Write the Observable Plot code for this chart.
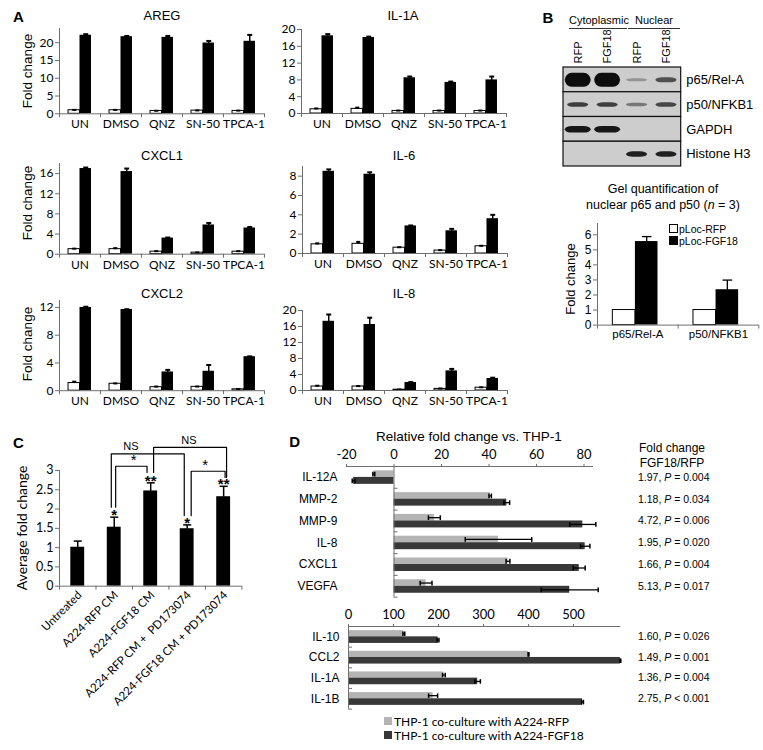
<!DOCTYPE html>
<html><head><meta charset="utf-8">
<script src="https://cdn.jsdelivr.net/npm/d3@7"></script>
<script src="https://cdn.jsdelivr.net/npm/@observablehq/plot@0.6"></script>
<style>
body{margin:0;background:#fff;}
#fig{position:relative;width:763px;height:750px;overflow:hidden;background:#fff;font-family:"Liberation Sans",Arial,sans-serif;color:#000;}
#fig svg{position:absolute;}
</style></head>
<body><div id="fig"></div>
<script>
// ---------- DATA ----------
// Panel A
const categoriesA = ["UN", "DMSO", "QNZ", "SN-50", "TPCA-1"];
const aregRFP = [1.0, 1.0, 0.8, 0.9, 0.8];
const aregRFPErr = [0.1, 0.1, 0.05, 0.05, 0.1];
const aregFGF18 = [22.1, 21.7, 21.5, 19.9, 20.4];
const aregFGF18Err = [0.3, 0.2, 0.4, 0.6, 1.8];
const il1aRFP = [1.0, 1.1, 0.6, 0.6, 0.6];
const il1aRFPErr = [0.2, 0.3, 0.1, 0.1, 0.1];
const il1aFGF18 = [18.5, 18.1, 8.5, 7.4, 8.0];
const il1aFGF18Err = [0.4, 0.2, 0.3, 0.2, 0.8];
const cxcl1RFP = [1.0, 1.0, 0.5, 0.3, 0.5];
const cxcl1RFPErr = [0.1, 0.2, 0.1, 0.05, 0.1];
const cxcl1FGF18 = [17.0, 16.4, 3.2, 5.8, 5.2];
const cxcl1FGF18Err = [0.2, 0.6, 0.1, 0.4, 0.2];
const il6RFP = [0.95, 1.0, 0.6, 0.3, 0.75];
const il6RFPErr = [0.1, 0.2, 0.05, 0.05, 0.05];
const il6FGF18 = [8.5, 8.2, 2.85, 2.35, 3.6];
const il6FGF18Err = [0.2, 0.2, 0.05, 0.2, 0.4];
const cxcl2RFP = [1.1, 1.0, 0.5, 0.55, 0.2];
const cxcl2RFPErr = [0.2, 0.05, 0.1, 0.05, 0.05];
const cxcl2FGF18 = [12.0, 11.7, 2.7, 2.8, 4.9];
const cxcl2FGF18Err = [0.1, 0.05, 0.3, 0.9, 0.05];
const il8RFP = [1.0, 1.0, 0.2, 0.4, 0.7];
const il8RFPErr = [0.2, 0.1, 0.05, 0.1, 0.1];
const il8FGF18 = [17.3, 16.5, 2.0, 4.9, 3.0];
const il8FGF18Err = [1.7, 1.7, 0.1, 0.5, 0.2];

// Panel B
const blotFractions = ["Cytoplasmic", "Nuclear"];
const blotLanes = ["RFP", "FGF18", "RFP", "FGF18"];
const blotRows = ["p65/Rel-A", "p50/NFKB1", "GAPDH", "Histone H3"];
const p65Signal = [1.0, 1.0, 0.3, 0.65];
const p50Signal = [0.75, 0.75, 0.45, 0.7];
const gapdhSignal = [0.95, 0.95, 0, 0];
const histoneSignal = [0, 0, 0.9, 0.9];
const gelTargets = ["p65/Rel-A", "p50/NFKB1"];
const gelRFP = [1, 1];
const gelFGF18 = [5.55, 2.35];
const gelFGF18Err = [0.33, 0.64];
const gelLegend = ["pLoc-RFP", "pLoc-FGF18"];

// Panel C
const categoriesC = ["Untreated", "A224-RFP CM", "A224-FGF18 CM", "A224-RFP CM +  PD173074", "A224-FGF18 CM + PD173074"];
const valuesC = [1.01, 1.53, 2.47, 1.49, 2.32];
const errorsC = [0.16, 0.26, 0.21, 0.1, 0.27];
const starsC = ["", "*", "**", "*", "**"];
const comparisonsC = [[1, 2, "*"], [1, 3, "NS"], [2, 4, "NS"], [3, 4, "*"]];

// Panel D
const genesTop = ["IL-12A", "MMP-2", "MMP-9", "IL-8", "CXCL1", "VEGFA"];
const topRFP = [-8.5, 40.5, 17, 44, 48, 13.5];
const topRFPErr = [0.4, 0.5, 2.5, 14, 0.8, 2.5];
const topFGF18 = [-17, 47.5, 79.5, 80.5, 78, 74];
const topFGF18Err = [0.6, 1.2, 5.5, 2, 2.5, 12];
const topRatio = ["1.97", "1.18", "4.72", "1.95", "1.66", "5.13"];
const topP = ["= 0.004", "= 0.034", "= 0.006", "= 0.020", "= 0.004", "= 0.017"];
const genesBottom = ["IL-10", "CCL2", "IL-1A", "IL-1B"];
const bottomRFP = [123, 400, 212, 188];
const bottomRFPErr = [2, 1, 3, 10];
const bottomFGF18 = [199, 604, 287, 520];
const bottomFGF18Err = [2, 1, 6, 2];
const bottomRatio = ["1.60", "1.49", "1.36", "2.75"];
const bottomP = ["= 0.026", "= 0.001", "= 0.004", "< 0.001"];
const legendD = ["THP-1 co-culture with A224-RFP", "THP-1 co-culture with A224-FGF18"];

// ---------- HELPERS ----------
const fig = document.getElementById("fig");
const AX = "#6e6e6e";
const excelFont = "Lato, 'Open Sans', sans-serif";
const arial = "'Liberation Sans', Arial, sans-serif";
const baseStyle = {background: "transparent", overflow: "visible", fontFamily: excelFont, fontSize: "11px", color: "black"};

function place(svg, left, top) {
  svg.style.left = left + "px";
  svg.style.top = top + "px";
  fig.appendChild(svg);
}
function txt(html, x, y, css = "", anchor = "middle") {
  const d = document.createElement("div");
  d.innerHTML = html;
  const tx = anchor === "middle" ? "-50%" : anchor === "start" ? "0" : "-100%";
  d.style.cssText = `position:absolute;white-space:nowrap;left:${x}px;top:${y}px;line-height:1;` + css;
  d.style.transform = `translate(${tx},-50%)`;
  fig.appendChild(d);
  return d;
}
function vtxt(html, cx, cy, css) {
  const d = document.createElement("div");
  d.innerHTML = html;
  d.style.cssText = `position:absolute;white-space:nowrap;left:${cx}px;top:${cy}px;line-height:1;` + css;
  d.style.transform = "translate(-50%,-50%) rotate(-90deg)";
  fig.appendChild(d);
}

// ---------- PANEL A ----------
function panelA(series, x0, yTop, yBottom, ymax, ticks) {
  const [w, we, b, be] = series;
  const ml = 34, mr = 6, mt = 6, mb = 24, fw = 205;
  const rows = categoriesA.map((c, i) => ({i, w: w[i], we: we[i], b: b[i], be: be[i]}));
  const svg = Plot.plot({
    width: fw + ml + mr, height: (yBottom - yTop) + mt + mb,
    marginLeft: ml, marginRight: mr, marginTop: mt, marginBottom: mb,
    x: {domain: [0, 5], axis: null}, y: {domain: [0, ymax], axis: null},
    style: baseStyle,
    marks: [
      Plot.rect(rows, {x1: d => d.i + 0.22, x2: d => d.i + 0.5, y1: 0, y2: "w", fill: "white", stroke: "black", strokeWidth: 1}),
      Plot.link(rows, {x1: d => d.i + 0.36, x2: d => d.i + 0.36, y1: "w", y2: d => d.w + d.we, stroke: "black", strokeWidth: 1.5}),
      Plot.link(rows, {x1: d => d.i + 0.31, x2: d => d.i + 0.41, y1: d => d.w + d.we, y2: d => d.w + d.we, stroke: "black", strokeWidth: 2}),
      Plot.rect(rows, {x1: d => d.i + 0.5, x2: d => d.i + 0.78, y1: 0, y2: "b", fill: "black"}),
      Plot.link(rows, {x1: d => d.i + 0.64, x2: d => d.i + 0.64, y1: "b", y2: d => d.b + d.be, stroke: "black", strokeWidth: 1.5}),
      Plot.link(rows, {x1: d => d.i + 0.58, x2: d => d.i + 0.70, y1: d => d.b + d.be, y2: d => d.b + d.be, stroke: "black", strokeWidth: 2}),
      Plot.ruleX([0], {stroke: AX}),
      Plot.ruleY([0], {stroke: AX}),
      Plot.axisY({ticks, tickSize: 4, tickPadding: 2, stroke: AX, label: null, tickFormat: d => String(d), fontSize: 12}),
      Plot.axisX({ticks: [0, 1, 2, 3, 4, 5], tickSize: 4, stroke: AX, label: null, tickFormat: () => ""}),
      Plot.axisX({ticks: [0.5, 1.5, 2.5, 3.5, 4.5], tickSize: 0, tickPadding: 6, label: null, tickFormat: d => categoriesA[Math.floor(d)], fontSize: 12})
    ]
  });
  place(svg, x0 - ml, yTop - mt);
}
panelA([aregRFP, aregRFPErr, aregFGF18, aregFGF18Err], 59.3, 28, 113.3, 24, [0, 5, 10, 15, 20]);
panelA([il1aRFP, il1aRFPErr, il1aFGF18, il1aFGF18Err], 301, 29.3, 113.3, 20, [0, 4, 8, 12, 16, 20]);
panelA([cxcl1RFP, cxcl1RFPErr, cxcl1FGF18, cxcl1FGF18Err], 59.3, 163.3, 254, 18, [0, 4, 8, 12, 16]);
panelA([il6RFP, il6RFPErr, il6FGF18, il6FGF18Err], 301.5, 166.3, 253.3, 9, [0, 2, 4, 6, 8]);
panelA([cxcl2RFP, cxcl2RFPErr, cxcl2FGF18, cxcl2FGF18Err], 58.5, 299.8, 390, 13, [0, 4, 8, 12]);
panelA([il8RFP, il8RFPErr, il8FGF18, il8FGF18Err], 301.5, 310, 390, 20, [0, 4, 8, 12, 16, 20]);
const tA = `font-family:${arial};font-size:13px;`;
txt("AREG", 162, 15, tA); txt("IL-1A", 403, 15, tA);
txt("CXCL1", 162, 155, tA); txt("IL-6", 404, 155, tA);
txt("CXCL2", 162, 293, tA); txt("IL-8", 404, 293, tA);
vtxt("Fold change", 28, 71, tA + "font-size:13.5px;");
vtxt("Fold change", 28, 203, tA + "font-size:13.5px;");
vtxt("Fold change", 28, 344, tA + "font-size:13.5px;");
txt("A", 18.5, 15.5, `font-family:${arial};font-weight:bold;font-size:15px;`);

// ---------- PANEL B: blot ----------
{
  const signals = [p65Signal, p50Signal, gapdhSignal, histoneSignal];
  const bandPx = [[14, 14, 3, 5], [4.5, 4.5, 3.5, 4.5], [6.5, 6.5, 0, 0], [5.5, 5.5, 5.5, 5.5]];
  const rowH = 99 / 4;
  const bands = [];
  signals.forEach((s, r) => s.forEach((v, l) => {
    if (v > 0) {
      const h = bandPx[r][l] / rowH;
      const wide = (r === 0 && l < 2) || (r === 2 && l < 2);
      bands.push({r, l, v, y1: r + 0.52 - h / 2, y2: r + 0.52 + h / 2, x1: l + (wide ? 0.06 : 0.14), x2: l + (wide ? 0.94 : 0.86)});
    }
  }));
  const ml = 2, mr = 90, mt = 42, mb = 2;
  const svg = Plot.plot({
    width: 117.7 + ml + mr, height: 99 + mt + mb,
    marginLeft: ml, marginRight: mr, marginTop: mt, marginBottom: mb,
    x: {domain: [0, 4], axis: null}, y: {domain: [0, 4], reverse: true, axis: null},
    style: {...baseStyle, fontFamily: arial},
    marks: [
      Plot.rect(blotRows, {x1: 0, x2: 4, y1: (d, i) => i, y2: (d, i) => i + 1, fill: "#cdcdcd", stroke: "#111", strokeWidth: 1.2}),
      Plot.rect(bands, {x1: "x1", x2: "x2", y1: "y1", y2: "y2", fill: "#0d0d0d", fillOpacity: "v", rx: 7, ariaLabel: "band"}),
      Plot.text(blotLanes, {x: (d, i) => i + 0.5, y: 0, dy: -4, text: d => d, rotate: -90, textAnchor: "start", fontSize: 11}),
      Plot.axisY({anchor: "right", ticks: [0.5, 1.5, 2.5, 3.5], tickSize: 0, tickPadding: 5, label: null, tickFormat: d => blotRows[Math.floor(d)], fontSize: 13})
    ]
  });
  const ns = "http://www.w3.org/2000/svg";
  const defs = document.createElementNS(ns, "defs");
  defs.innerHTML = '<filter id="blotblur" x="-20%" y="-50%" width="140%" height="200%"><feGaussianBlur stdDeviation="1.3"/></filter>';
  svg.insertBefore(defs, svg.firstChild);
  svg.querySelectorAll('g[aria-label="band"]').forEach(g => g.setAttribute("filter", "url(#blotblur)"));
  place(svg, 563.3 - ml, 66.7 - mt);
  const hb = `font-family:${arial};font-size:11px;border-bottom:1.3px solid #333;padding-bottom:2px;text-align:center;`;
  txt(blotFractions[0], 598, 22, hb + "width:58px;");
  txt(blotFractions[1], 654, 22, hb + "width:52px;");
  txt("B", 548, 16.5, `font-family:${arial};font-weight:bold;font-size:15px;`);
}

// ---------- PANEL B: gel quantification ----------
{
  const ml = 30, mr = 4, mt = 4, mb = 20, fw = 161.3, fh = 101.6;
  const rows = gelTargets.map((t, i) => ({i, w: gelRFP[i], b: gelFGF18[i], be: gelFGF18Err[i]}));
  const svg = Plot.plot({
    width: fw + ml + mr, height: fh + mt + mb,
    marginLeft: ml, marginRight: mr, marginTop: mt, marginBottom: mb,
    x: {domain: [0, 2], axis: null}, y: {domain: [0, 6.75], axis: null},
    style: {...baseStyle, fontFamily: arial},
    marks: [
      Plot.rect(rows, {x1: d => d.i + 0.19, x2: d => d.i + 0.47, y1: 0, y2: "w", fill: "white", stroke: "black", strokeWidth: 1}),
      Plot.link(rows, {x1: d => d.i + 0.61, x2: d => d.i + 0.61, y1: "b", y2: d => d.b + d.be, stroke: "black", strokeWidth: 1.3}),
      Plot.link(rows, {x1: d => d.i + 0.55, x2: d => d.i + 0.67, y1: d => d.b + d.be, y2: d => d.b + d.be, stroke: "black", strokeWidth: 1.3}),
      Plot.rect(rows, {x1: d => d.i + 0.47, x2: d => d.i + 0.75, y1: 0, y2: "b", fill: "black"}),
      Plot.ruleX([0], {stroke: AX}),
      Plot.ruleY([0], {stroke: AX}),
      Plot.axisY({ticks: [0, 1, 2, 3, 4, 5, 6], tickSize: 4, tickPadding: 2, stroke: AX, label: null, tickFormat: d => String(d), fontSize: 12}),
      Plot.axisX({ticks: [0, 1, 2], tickSize: 4, stroke: AX, label: null, tickFormat: () => ""}),
      Plot.axisX({ticks: [0.5, 1.5], tickSize: 0, tickPadding: 5, label: null, tickFormat: d => gelTargets[Math.floor(d)], fontSize: 11.5})
    ]
  });
  place(svg, 596.7 - ml, 222.7 - mt);
  const tb = `font-family:${arial};font-size:12.5px;`;
  txt("Gel quantification of", 663, 189, tb);
  txt("nuclear p65 and p50 (<i>n</i> = 3)", 663, 205, tb);
  vtxt("Fold change", 570, 279, tb + "font-size:13px;");
  const lg = `font-family:${arial};font-size:10.5px;`;
  const sq = (x, y, fill) => { const d = document.createElement("div"); d.style.cssText = `position:absolute;left:${x}px;top:${y}px;width:7px;height:7px;background:${fill};border:1px solid #000;`; fig.appendChild(d); };
  sq(669, 224, "#fff"); sq(669, 236, "#000");
  txt(gelLegend[0], 679, 229, lg, "start");
  txt(gelLegend[1], 679, 241, lg, "start");
}

// ---------- PANEL C ----------
{
  const ml = 40, mr = 12, mt = 42, mb = 120, fw = 182.4, fh = 115.7;
  const rows = categoriesC.map((c, i) => ({i, c, v: valuesC[i], e: errorsC[i], s: starsC[i]}));
  const cx = i => i + 0.5;
  // bracket geometry (x offsets & heights, layout only)
  const geo = [
    {a: 0.04, b: -0.1, top: 3.11, ya: 2.05, yb: 2.95, lx: 2.03, ly: 3.28},
    {a: -0.08, b: -0.08, top: 3.43, ya: 2.05, yb: 1.83, lx: 1.96, ly: 3.62},
    {a: 0.08, b: 0.08, top: 3.6, ya: 2.95, yb: 2.82, lx: 3.55, ly: 3.79},
    {a: 0.11, b: 0.04, top: 2.98, ya: 1.83, yb: 2.82, lx: 3.99, ly: 3.14}
  ];
  const pts = [];
  const labels = [];
  comparisonsC.forEach(([i, j, lab], k) => {
    const g = geo[k];
    pts.push({k, x: cx(i) + g.a, y: g.ya}, {k, x: cx(i) + g.a, y: g.top}, {k, x: cx(j) + g.b, y: g.top}, {k, x: cx(j) + g.b, y: g.yb});
    labels.push({x: g.lx, y: g.ly, t: lab});
  });
  const svg = Plot.plot({
    width: fw + ml + mr, height: fh + mt + mb,
    marginLeft: ml, marginRight: mr, marginTop: mt, marginBottom: mb,
    x: {domain: [0, 5], axis: null}, y: {domain: [0, 3], axis: null},
    style: baseStyle,
    marks: [
      Plot.rect(rows, {x1: d => d.i + 0.31, x2: d => d.i + 0.69, y1: 0, y2: "v", fill: "black"}),
      Plot.link(rows, {x1: d => cx(d.i), x2: d => cx(d.i), y1: "v", y2: d => d.v + d.e, stroke: "black", strokeWidth: 1.5}),
      Plot.link(rows, {x1: d => cx(d.i) - 0.11, x2: d => cx(d.i) + 0.11, y1: d => d.v + d.e, y2: d => d.v + d.e, stroke: "black", strokeWidth: 1.5}),
      Plot.text(rows, {x: d => cx(d.i), y: d => d.v + d.e, text: "s", dy: -2, fontSize: 15, fontFamily: arial, fontWeight: "bold"}),
      Plot.line(pts, {x: "x", y: "y", z: "k", stroke: "black", strokeWidth: 1.2}),
      Plot.text(labels, {x: "x", y: "y", text: "t", fontSize: d => d.t === "NS" ? 11 : 15, fontFamily: arial, fontWeight: d => d.t === "NS" ? "normal" : "bold"}),
      Plot.ruleX([0], {stroke: AX}),
      Plot.ruleY([0], {stroke: AX}),
      Plot.axisY({ticks: [0, 0.5, 1, 1.5, 2, 2.5, 3], tickSize: 4, tickPadding: 2, stroke: AX, label: null, tickFormat: d => String(d), fontSize: 12.5}),
      Plot.axisX({ticks: [0, 1, 2, 3, 4, 5], tickSize: 4, stroke: AX, label: null, tickFormat: () => ""}),
      Plot.text(rows, {x: d => cx(d.i), y: 0, dy: 7, dx: 2, text: "c", rotate: -45, textAnchor: "end", fontSize: 11.5})
    ]
  });
  place(svg, 59.3 - ml, 470 - mt);
  vtxt("Average fold change", 22, 528, `font-family:${excelFont};font-size:14px;`);
  txt("C", 18.5, 441.5, `font-family:${arial};font-weight:bold;font-size:15px;`);
}

// ---------- PANEL D ----------
function panelD(genes, rfp, rfpE, fgf, fgfE, xdom, ticks, fx0, fx1, fy0, fy1, tickLen) {
  const ml = 90, mr = 12, mt = 24, mb = 6;
  const n = genes.length;
  const rows = genes.map((g, i) => ({i, a: rfp[i], ae: rfpE[i], b: fgf[i], be: fgfE[i]}));
  const svg = Plot.plot({
    width: (fx1 - fx0) + ml + mr, height: (fy1 - fy0) + mt + mb,
    marginLeft: ml, marginRight: mr, marginTop: mt, marginBottom: mb,
    x: {domain: xdom, axis: null}, y: {domain: [0, n], reverse: true, axis: null},
    style: baseStyle,
    marks: [
      Plot.rect(rows, {x1: 0, x2: "a", y1: d => d.i + 0.2, y2: d => d.i + 0.5, fill: "#b4b4b4"}),
      Plot.rect(rows, {x1: 0, x2: "b", y1: d => d.i + 0.5, y2: d => d.i + 0.82, fill: "#383838"}),
      Plot.link(rows, {x1: d => d.a - d.ae, x2: d => d.a + d.ae, y1: d => d.i + 0.35, y2: d => d.i + 0.35, stroke: "black", strokeWidth: 1.3}),
      Plot.link(rows, {x1: d => d.a - d.ae, x2: d => d.a - d.ae, y1: d => d.i + 0.24, y2: d => d.i + 0.46, stroke: "black", strokeWidth: 1.5}),
      Plot.link(rows, {x1: d => d.a + d.ae, x2: d => d.a + d.ae, y1: d => d.i + 0.24, y2: d => d.i + 0.46, stroke: "black", strokeWidth: 1.5}),
      Plot.link(rows, {x1: d => d.b - d.be, x2: d => d.b + d.be, y1: d => d.i + 0.66, y2: d => d.i + 0.66, stroke: "black", strokeWidth: 1.3}),
      Plot.link(rows, {x1: d => d.b - d.be, x2: d => d.b - d.be, y1: d => d.i + 0.55, y2: d => d.i + 0.77, stroke: "black", strokeWidth: 1.5}),
      Plot.link(rows, {x1: d => d.b + d.be, x2: d => d.b + d.be, y1: d => d.i + 0.55, y2: d => d.i + 0.77, stroke: "black", strokeWidth: 1.5}),
      Plot.ruleX([0], {stroke: AX}),
      Plot.ruleY(d3.range(n + 1), {x1: 0, x2: tickLen, stroke: AX}),
      Plot.ruleY([0], {stroke: AX}),
      Plot.axisX({anchor: "top", ticks, tickSize: 3, tickPadding: 4, stroke: AX, label: null, tickFormat: d => String(d), fontSize: 13}),
      Plot.axisY({anchor: "left", ticks: d3.range(n).map(i => i + 0.5), tickSize: 0, tickPadding: 9, label: null, tickFormat: d => genes[Math.floor(d)], fontSize: 12, fontFamily: arial})
    ]
  });
  place(svg, fx0 - ml, fy0 - mt);
}
panelD(genesTop, topRFP, topRFPErr, topFGF18, topFGF18Err, [-20, 84], [-20, 0, 20, 40, 60, 80], 345.8, 592.8, 466, 596.7, 1.7);
panelD(genesBottom, bottomRFP, bottomRFPErr, bottomFGF18, bottomFGF18Err, [0, 605], [0, 100, 200, 300, 400, 500], 347.5, 619.8, 625.7, 708.3, 9);
{
  txt("D", 294.7, 440.5, `font-family:${arial};font-weight:bold;font-size:15px;`);
  txt("Relative fold change vs. THP-1", 376, 437, `font-family:${arial};font-size:13.5px;`, "start");
  const hd = `font-family:${arial};font-size:12px;`;
  txt("Fold change", 672, 448, hd);
  txt("FGF18/RFP", 672, 463, hd);
  const vd = `font-family:${arial};font-size:10.5px;`;
  const topY = i => 466 + (i + 0.5) * (130.7 / 6);
  const botY = i => 625.7 + (i + 0.5) * (82.6 / 4);
  topRatio.forEach((r, i) => txt(`${r}, <i>P</i> ${topP[i]}`, 638, topY(i), vd, "start"));
  bottomRatio.forEach((r, i) => txt(`${r}, <i>P</i> ${bottomP[i]}`, 638, botY(i), vd, "start"));
  const sq = (x, y, fill) => { const d = document.createElement("div"); d.style.cssText = `position:absolute;left:${x}px;top:${y}px;width:8px;height:8px;background:${fill};`; fig.appendChild(d); };
  sq(384, 717, "#b4b4b4"); sq(384, 731, "#383838");
  const ld = `font-family:${excelFont};font-size:12px;`;
  txt(legendD[0], 394, 721.5, ld, "start");
  txt(legendD[1], 394, 735.5, ld, "start");
}
</script>
</body></html>
